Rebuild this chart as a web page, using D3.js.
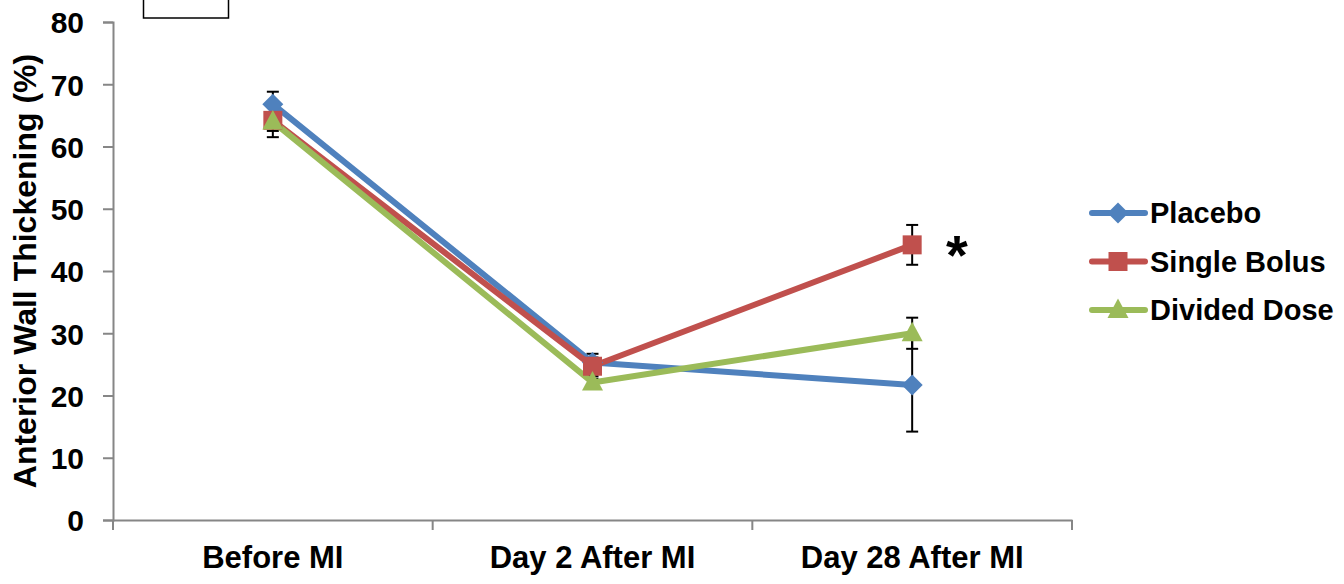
<!DOCTYPE html>
<html><head><meta charset="utf-8">
<script src="https://cdn.jsdelivr.net/npm/d3@7"></script>
<style>body{margin:0;background:#fff}svg{display:block}</style>
</head><body>
<svg id="c" width="1344" height="584"></svg>
<script>
const categories = ["Before MI", "Day 2 After MI", "Day 28 After MI"];
const seriesNames = ["Placebo", "Single Bolus", "Divided Dose"];
const placebo = [66.8, 25.3, 21.7];
const placeboErr = [2.0, 0.8, 7.5];
const singleBolus = [64.2, 24.7, 44.2];
const singleBolusErr = [2.7, 2.0, 3.2];
const dividedDose = [64.0, 22.1, 30.0];
const dividedDoseErr = [1.5, 1.0, 2.5];
const yTicks = [0, 10, 20, 30, 40, 50, 60, 70, 80];
const colors = ["#4F81BD", "#C0504D", "#9BBB59"];

const series = [
  {name: seriesNames[0], values: placebo, err: placeboErr},
  {name: seriesNames[1], values: singleBolus, err: singleBolusErr},
  {name: seriesNames[2], values: dividedDose, err: dividedDoseErr}
];

// marker shapes
const diamond = "M0,-10.5L10.5,0L0,10.5L-10.5,0Z";
const square = "M-9.5,-9.5H9.5V9.5H-9.5Z";
const triangle = "M0,-11.5L10.5,8L-10.5,8Z";
const markerPaths = [diamond, square, triangle];

const svg = d3.select("#c");
const font = "'Liberation Sans', Arial, sans-serif";
const x = d3.scaleBand().domain(categories).range([113, 1072]);
const y = d3.scaleLinear().domain([0, 80]).range([520, 22]);
const cx = c => x(c) + x.bandwidth() / 2;

// top box
svg.append("rect").attr("x", 143.5).attr("y", -2).attr("width", 85).attr("height", 20)
  .attr("fill", "#fff").attr("stroke", "#000").attr("stroke-width", 1.5);

// y axis
const yAxis = svg.append("g").attr("transform", "translate(113,0)")
  .call(d3.axisLeft(y).tickValues(yTicks).tickSize(10).tickPadding(19));
yAxis.select(".domain").attr("stroke", "#868686").attr("stroke-width", 2);
yAxis.selectAll(".tick line").attr("stroke", "#868686").attr("stroke-width", 2);
yAxis.selectAll("text").attr("font-family", font).attr("font-weight", "bold")
  .attr("font-size", 30).attr("fill", "#000").attr("dy", "0.36em");

// x axis
const xAxis = svg.append("g").attr("transform", "translate(0,520)")
  .call(d3.axisBottom(x).tickSize(0).tickPadding(0));
xAxis.select(".domain").attr("stroke", "#868686").attr("stroke-width", 2);
xAxis.selectAll("text").attr("font-family", font).attr("font-weight", "bold")
  .attr("font-size", 31).attr("fill", "#000").attr("dy", 0).attr("y", 48);
const bounds = [x.range()[0]].concat(categories.map(c => x(c) + x.bandwidth()));
svg.append("g").selectAll("line").data(bounds).join("line")
  .attr("x1", d => d).attr("x2", d => d).attr("y1", 520).attr("y2", 530)
  .attr("stroke", "#868686").attr("stroke-width", 2);

// y label
svg.append("text").attr("transform", "translate(36,271) rotate(-90)")
  .attr("text-anchor", "middle").attr("font-family", font).attr("font-weight", "bold")
  .attr("font-size", 32).attr("fill", "#000").text("Anterior Wall Thickening (%)");

// error bars
series.forEach(s => {
  const g = svg.append("g");
  categories.forEach((c, i) => {
    const v = s.values[i], e = s.err[i];
    const X = cx(c);
    g.append("line").attr("x1", X).attr("x2", X).attr("y1", y(v + e)).attr("y2", y(v - e))
      .attr("stroke", "#000").attr("stroke-width", 2);
    [v + e, v - e].forEach(t => g.append("line").attr("x1", X - 6).attr("x2", X + 6)
      .attr("y1", y(t)).attr("y2", y(t)).attr("stroke", "#000").attr("stroke-width", 2));
  });
});

// lines and markers
const line = d3.line().x((d, i) => cx(categories[i])).y(d => y(d));
series.forEach((s, k) => {
  svg.append("path").datum(s.values).attr("d", line).attr("fill", "none")
    .attr("stroke", colors[k]).attr("stroke-width", 6).attr("stroke-linejoin", "round");
});
series.forEach((s, k) => {
  svg.append("g").selectAll("path").data(s.values).join("path")
    .attr("transform", (d, i) => `translate(${cx(categories[i])},${y(d)})`)
    .attr("d", markerPaths[k]).attr("fill", colors[k]);
});

// star
svg.append("text").attr("x", 957).attr("y", 274).attr("text-anchor", "middle")
  .attr("font-family", font).attr("font-weight", "bold").attr("font-size", 56)
  .attr("fill", "#000").text("*");

// legend
const lg = svg.append("g");
series.forEach((s, k) => {
  const yy = 213 + k * 48.5;
  lg.append("line").attr("x1", 1092).attr("x2", 1145).attr("y1", yy).attr("y2", yy)
    .attr("stroke", colors[k]).attr("stroke-width", 6).attr("stroke-linecap", "round");
  lg.append("path").attr("transform", `translate(1118,${yy})`)
    .attr("d", markerPaths[k]).attr("fill", colors[k]);
  lg.append("text").attr("x", 1150).attr("y", yy + 10).attr("font-family", font)
    .attr("font-weight", "bold").attr("font-size", 29).attr("fill", "#000").text(s.name);
});
</script>
</body></html>
